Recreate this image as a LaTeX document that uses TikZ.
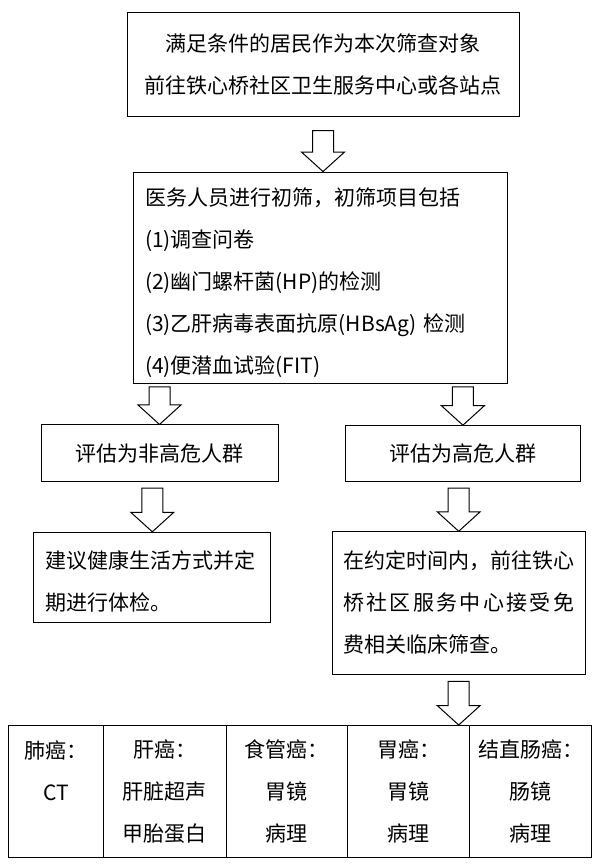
\documentclass[tikz,border=0pt]{standalone}
\usepackage{fontspec}
\setmainfont{Noto Sans CJK SC}
\usetikzlibrary{positioning}
\usetikzlibrary{calc}

\begin{document}
\begin{tikzpicture}[x=1pt, y=-1pt, line width=1pt,
    every node/.style={font=\fontsize{21pt}{42pt}\selectfont},
    box/.style={draw, rectangle, inner sep=0pt},
    lowered/.style={execute at begin node={\rule{0pt}{#1}}},
    fatarrow/.style={draw, fill=white,
        to path={let \p1=(\tikztostart), \p2=(\tikztotarget) in
            (\x1-10.5pt,\y1) -- (\x1+10.5pt,\y1) -- (\x1+10.5pt,\y2+19.5pt)
            -- (\x1+21.5pt,\y2+19.5pt) -- (\x1,\y2) -- (\x1-21.5pt,\y2+19.5pt)
            -- (\x1-10.5pt,\y2+19.5pt) -- cycle}}]

\useasboundingbox (0,0) rectangle (606,866);

% Invitation
\node[box, minimum width=392pt, minimum height=103.3pt, align=center] (start) at (323,64.4)
    {满足条件的居民作为本次筛查对象\\前往铁心桥社区卫生服务中心或各站点};

% First screening
\node[box, minimum width=374pt, minimum height=211.3pt, text width=350pt,
      inner xsep=12pt, align=left, lowered=28pt] (screen) at (320,277.7)
    {医务人员进行初筛，初筛项目包括\\(1)调查问卷\\(2)幽门螺杆菌(HP)的检测\\(3)乙肝病毒表面抗原(HBsAg) 检测\\(4)便潜血试验(FIT)};

% Risk groups
\node[box, minimum width=237pt, minimum height=56.7pt] (low) at (159.5,453.3) {评估为非高危人群};
\node[box, minimum width=234.3pt, minimum height=56pt] (high) at (462.9,453.7) {评估为高危人群};

% Follow-up
\node[box, minimum width=236.7pt, minimum height=90pt, text width=212.7pt,
      inner xsep=12pt, align=left, lowered=26pt] (advice) at (152.3,577.3)
    {建议健康生活方式并定\\期进行体检。};
\node[box, minimum width=252.7pt, minimum height=142.3pt, text width=231pt,
      inner xsep=10.85pt, align=left] (clinic) at (458.7,602.9)
    {在约定时间内，前往铁心\\\makebox[\linewidth][s]{桥\hfil 社\hfil 区\hfil 服\hfil 务\hfil 中\hfil 心\hfil 接\hfil 受\hfil 免}\\费相关临床筛查。};

% Clinical screening table
\foreach \i/\x/\w/\txt in {1/8/95/{肺癌：\\CT\\~},
                           2/103/122.5/{肝癌：\\肝脏超声\\甲胎蛋白},
                           3/225.5/121.8/{食管癌：\\胃镜\\病理},
                           4/347.3/121.9/{胃癌：\\胃镜\\病理},
                           5/469.2/121.8/{结直肠癌：\\肠镜\\病理}} {
    \node[box, anchor=north west, minimum width=\w pt, minimum height=131.7pt,
          align=center, lowered=26pt] (c\i) at (\x,725) {\txt};
}

% Arrows
\draw[fatarrow] ($(start.south)+(0,-14pt)$) to (screen.north);
\draw[fatarrow] ($(low.north |- screen.south)+(0,-3pt)$) to (low.north);
\draw[fatarrow] ($(high.north |- screen.south)+(0,-3pt)$) to (high.north);
\draw[fatarrow] ($(advice.north |- low.south)+(0,-6pt)$) to (advice.north);
\draw[fatarrow] ($(clinic.north |- high.south)+(0,-6pt)$) to (clinic.north);
\draw[fatarrow] ($(clinic.south)+(0,-6.7pt)$) to (clinic.south |- c1.north);

\end{tikzpicture}
\end{document}
